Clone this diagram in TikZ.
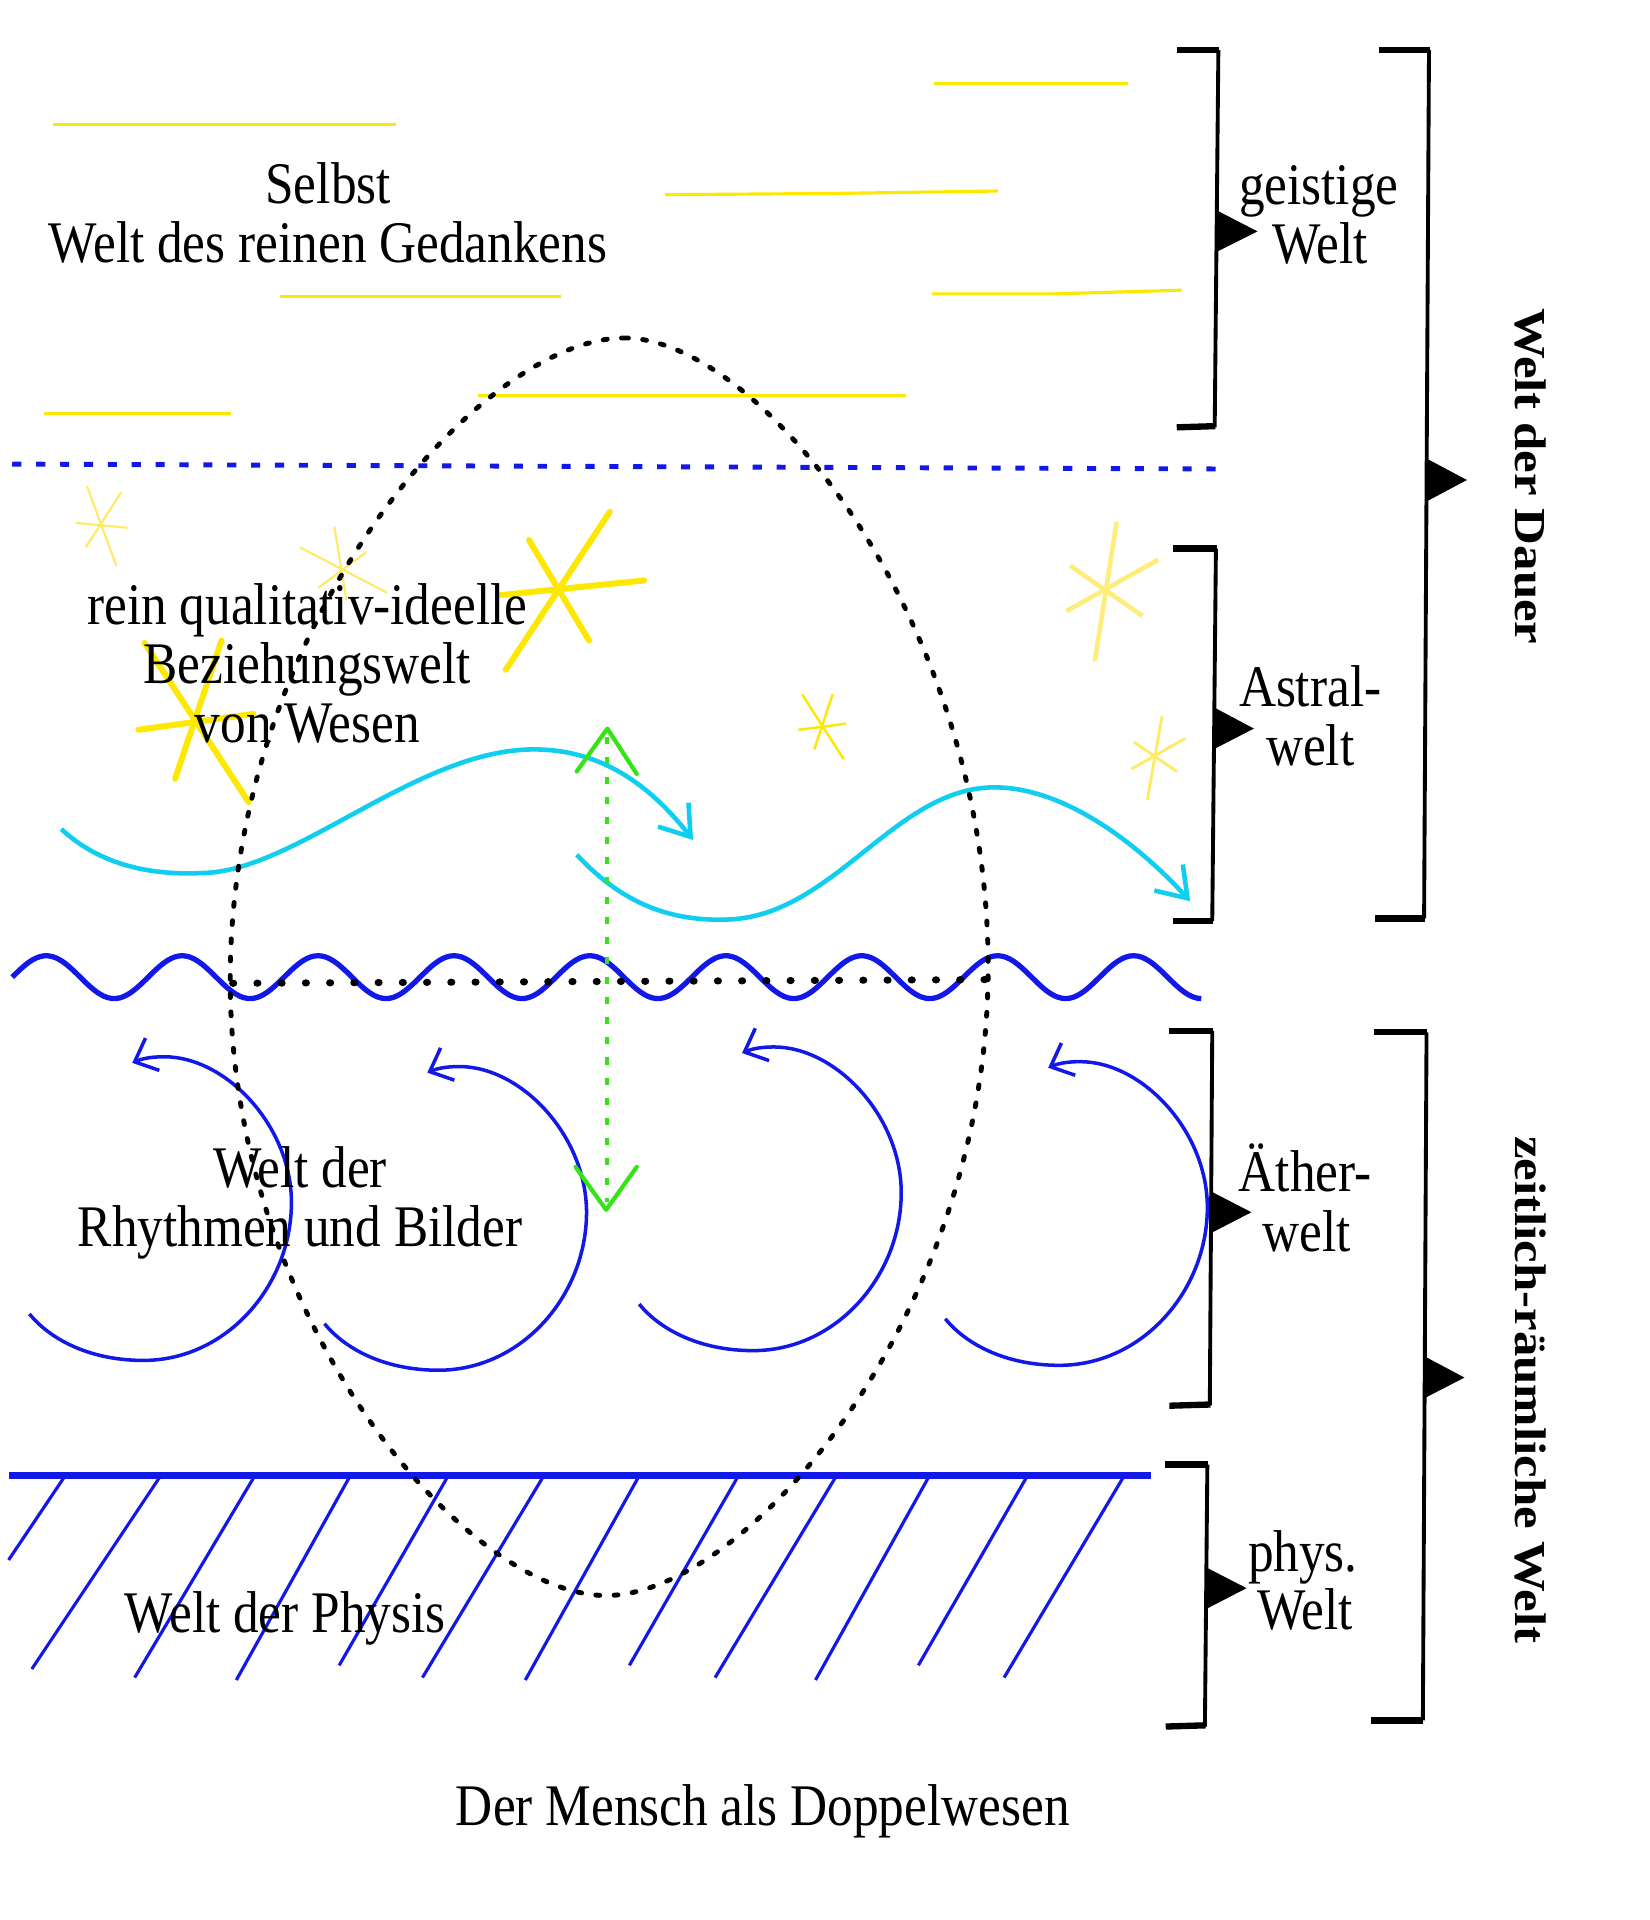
\documentclass[tikz,border=0pt]{standalone}
\usepackage{fontspec}
\setmainfont{Liberation Serif}
\usepackage{graphicx}
\usetikzlibrary{arrows.meta}
\definecolor{ylw}{RGB}{252,232,0}
\definecolor{paleylw}{RGB}{255,234,100}
\definecolor{dblue}{RGB}{18,24,232}
\definecolor{cyn}{RGB}{16,206,240}
\definecolor{grn}{RGB}{52,228,20}
\newcommand{\vst}[1]{\scalebox{1}[1.15]{#1}}
\newcommand{\lst}[1]{\scalebox{1.15}[1]{#1}}
\begin{document}
\begin{tikzpicture}[x=0.012249cm,y=-0.012249cm,
  lbl/.style={inner sep=0pt, anchor=base, font=\fontsize{14.6}{17}\selectfont},
  rotlbl/.style={inner sep=0pt, anchor=center, rotate=-90, font=\fontsize{12.6}{15}\selectfont\bfseries},
  yline/.style={ylw, line width=0.9pt},
  bigstar/.style={ylw, line width=1.7pt, line cap=round},
  thinstar/.style={paleylw, line width=0.6pt},
  wavecyan/.style={cyn, line width=1.3pt, -{Straight Barb[length=8pt,width=11pt]}},
  bluearc/.style={dblue, line width=1pt, -{Straight Barb[length=5.5pt,width=10pt]}},
  hatch/.style={dblue, line width=0.9pt},
  egg/.style={black, line width=1.4pt, line cap=round, dash pattern=on 1.1pt off 4.1pt},
  bvert/.style={black, line width=1.1pt},
  bcap/.style={black, line width=1.8pt},
  ptr/.style={black}
]
\fill[white] (0,0) rectangle (1347,1568);
\useasboundingbox (0,0) rectangle (1347,1568);

% yellow lines (geistige Welt)
\draw[yline] (43,102) -- (323,102);
\draw[yline] (763,68) -- (921,68);
\draw[yline] (543,159) -- (680,158) -- (815,156);
\draw[yline] (229,242) -- (458,242);
\draw[yline] (761,240) -- (860,240) -- (965,237);
\draw[yline] (36,338) -- (189,338);
\draw[yline] (390,323) -- (740,323);

% stars
\draw[thinstar] (71,397)--(95,462) (99,402)--(70,447) (62,427)--(104,431);
\draw[thinstar] (273,430)--(283,490) (299,451)--(260,480) (245,447)--(316,484);
\draw[bigstar] (498,418)--(413,547) (432,441)--(481,523) (409,486)--(526,474);
\draw[bigstar] (118,525)--(203,655) (181,523)--(143,636) (113,596)--(207,583);
\draw[ylw, line width=0.7pt] (655,567)--(689,620) (680,567)--(665,612) (652,596)--(691,591);
\draw[paleylw, line width=1.3pt, opacity=0.85] (912,426)--(894,540) (874,462)--(933,503) (871,499)--(946,457);
\draw[paleylw, line width=0.8pt] (949,585)--(937,653) (926,606)--(961,630) (924,628)--(968,603);

% blue dotted border
\draw[dblue, line width=1.4pt, dash pattern=on 2.6pt off 4.2pt] (10,379) -- (995,383);

% cyan waves
\draw[wavecyan] (50,677) .. controls (80,705) and (120,715) .. (164,713)
  .. controls (240,713) and (340,612) .. (436,612)
  .. controls (490,612) and (530,640) .. (566,686);
\draw[wavecyan] (471,698) .. controls (510,740) and (550,752) .. (592,751)
  .. controls (680,750) and (730,643) .. (812,643)
  .. controls (870,643) and (930,690) .. (972,736);

% blue wave line
\draw[dblue, line width=1.5pt] plot[domain=10:981, samples=300] (\x, {798-17.5*sin(3.24324*(\x-10))});

% blue circling arrows
\foreach \dx/\dy in {0/0, 241/8, 498/-8, 748/4} {
\begin{scope}[shift={(\dx,\dy)}]
\draw[bluearc] (24,1073) .. controls (42,1095) and (75,1111) .. (117,1111)
  .. controls (185,1111) and (238,1050) .. (238,982)
  .. controls (238,920) and (185,863) .. (134,863)
  .. controls (122,863) and (115,865) .. (108,868);
\end{scope}
}

% hatching (physical world)
\draw[hatch] (52,1207)--(7,1274) (130,1207)--(26,1363) (207,1207)--(110,1370)
  (285,1207)--(193,1372) (365,1207)--(277,1360) (443,1207)--(345,1370)
  (521,1207)--(429,1372) (602,1207)--(514,1360) (682,1207)--(584,1370)
  (758,1207)--(666,1372) (838,1207)--(750,1360) (917,1207)--(820,1370);
\draw[dblue, line width=1.8pt] (7,1205) -- (940,1205);

% green double arrow
\draw[grn, line width=1.1pt, dash pattern=on 2pt off 3.7pt] (496,602) -- (496,982);
\draw[grn, line width=1.2pt, line cap=round, line join=round] (471,630) -- (496,595) -- (520,632);
\draw[grn, line width=1.2pt, line cap=round, line join=round] (470,953) -- (495,988) -- (520,953);

% texts
\node[lbl] (selbst) at (268,166) {\vst{Selbst}};
\node[lbl] (gedanken) at (268,214) {\vst{Welt des reinen Gedankens}};
\node[lbl] (rein) at (251,510) {\vst{rein qualitativ-ideelle}};
\node[lbl] (bez) at (251,558) {\vst{Beziehungswelt}};
\node[lbl] (wesen) at (251,606) {\vst{von Wesen}};
\node[lbl] (rhy1) at (245,970) {\vst{Welt der}};
\node[lbl] (rhy2) at (245,1018) {\vst{Rhythmen und Bilder}};
\node[lbl] (physis) at (233,1333) {\vst{Welt der Physis}};
\node[lbl] (caption) at (623,1491) {\vst{Der Mensch als Doppelwesen}};
\node[lbl] (geist1) at (1077,167) {\vst{geistige}};
\node[lbl] (geist2) at (1078,215) {\vst{Welt}};
\node[lbl] (astr1) at (1070,577) {\vst{Astral-}};
\node[lbl] (astr2) at (1070,625) {\vst{welt}};
\node[lbl] (aeth1) at (1066,973) {\vst{Äther-}};
\node[lbl] (aeth2) at (1067,1022) {\vst{welt}};
\node[lbl] (phys1) at (1064,1283) {\vst{phys.}};
\node[lbl] (phys2) at (1066,1331) {\vst{Welt}};
\node[rotlbl] (dauer) at (1250,389) {\lst{Welt der Dauer}};
\node[rotlbl] (zeitr) at (1250,1135) {\lst{zeitlich-räumliche Welt}};

% black dotted egg (der Mensch)
\draw[egg] (510,276) .. controls (620,276) and (807,506) .. (807,790)
  .. controls (807,1073) and (610,1303) .. (495,1303)
  .. controls (381,1303) and (188,1078) .. (188,800)
  .. controls (188,511) and (391,276) .. (510,276) -- cycle;
\draw[line width=2pt, line cap=round, dash pattern=on 0.3pt off 6.6pt] (190,803) -- (808,800);

% brackets
% geistige Welt
\draw[bvert] (995,41) -- (992,349);
\draw[bcap] (961,41) -- (995.5,41);
\draw[bcap] (961,349) -- (992.5,348);
\fill[ptr] (994,172) -- (1027,189) -- (993,206) -- cycle;
% Welt der Dauer
\draw[bvert] (1167,41) -- (1163,750);
\draw[bcap] (1126,41) -- (1167.5,41);
\draw[bcap] (1123,750) -- (1163.5,750);
\fill[ptr] (1166,375) -- (1198,392) -- (1166,409) -- cycle;
% Astralwelt
\draw[bvert] (993,448) -- (990,752);
\draw[bcap] (958,448) -- (993.5,448);
\draw[bcap] (958,752) -- (990.5,752);
\fill[ptr] (992,578) -- (1024,595) -- (991,612) -- cycle;
% Aetherwelt
\draw[bvert] (990,842) -- (988,1148);
\draw[bcap] (955,842) -- (990.5,842);
\draw[bcap] (955,1148) -- (988.5,1147);
\fill[ptr] (989,973) -- (1022,990) -- (989,1007) -- cycle;
% zeitlich-raeumliche Welt
\draw[bvert] (1165,843) -- (1162,1405);
\draw[bcap] (1122,843) -- (1165.5,843);
\draw[bcap] (1120,1405) -- (1162.5,1405);
\fill[ptr] (1164,1108) -- (1196,1125) -- (1163,1142) -- cycle;
% phys. Welt
\draw[bvert] (986,1196) -- (984,1410);
\draw[bcap] (951,1196) -- (986.5,1196);
\draw[bcap] (952,1410) -- (984.5,1409);
\fill[ptr] (985,1280) -- (1018,1297) -- (985,1314) -- cycle;
\end{tikzpicture}
\end{document}
